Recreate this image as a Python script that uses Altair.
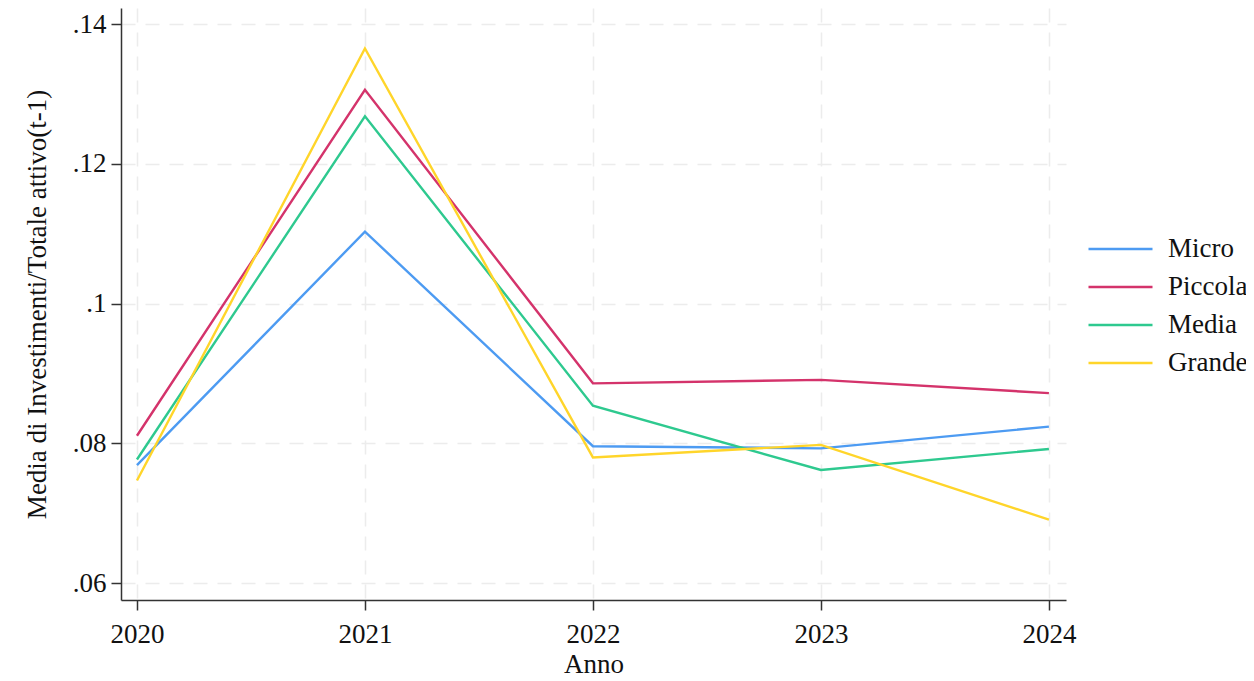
import altair as alt
import pandas as pd

years = [2020, 2021, 2022, 2023, 2024]
series = ["Micro", "Piccola", "Media", "Grande"]
micro = [0.0769, 0.1103, 0.0796, 0.0793, 0.0824]
piccola = [0.0811, 0.1306, 0.0886, 0.0891, 0.0872]
media = [0.0777, 0.1268, 0.0854, 0.0762, 0.0792]
grande = [0.0747, 0.1365, 0.0780, 0.0798, 0.0691]
colors = ["#4d9bf2", "#d4336b", "#2ec98f", "#ffd52a"]
y_ticks = [0.06, 0.08, 0.10, 0.12, 0.14]

rows = []
for name, vals in zip(series, [micro, piccola, media, grande]):
    for yr, v in zip(years, vals):
        rows.append({"Anno": yr, "Serie": name, "Valore": v})
df = pd.DataFrame(rows)

FONT = "Liberation Serif"

chart = alt.Chart(df).mark_line(strokeWidth=2.4).encode(
    x=alt.X("Anno:Q",
            scale=alt.Scale(domain=[2019.93, 2024.075], nice=False, zero=False),
            axis=alt.Axis(values=years, format="d", title="Anno",
                          tickSize=10, labelPadding=11, titlePadding=4,
                          grid=True, gridDash=[14, 10], gridColor="#ececec", gridWidth=1.5)),
    y=alt.Y("Valore:Q",
            scale=alt.Scale(domain=[0.0576, 0.1423], nice=False, zero=False),
            axis=alt.Axis(values=y_ticks, title="Media di Investimenti/Totale attivo(t-1)",
                          labelExpr="replace(format(datum.value, '.2~f'), '0.', '.')",
                          tickSize=10, labelPadding=5, titlePadding=21,
                          grid=True, gridDash=[14, 10], gridColor="#ececec", gridWidth=1.5)),
    color=alt.Color("Serie:N", sort=series,
                    scale=alt.Scale(domain=series, range=colors),
                    legend=alt.Legend(title=None, orient="none", legendX=966, legendY=222,
                                      symbolType="stroke", symbolSize=4096,
                                      symbolStrokeWidth=2.5, clipHeight=38,
                                      labelFont=FONT, labelFontSize=27, labelColor="#111",
                                      labelOffset=14, rowPadding=0)),
    order=alt.Order("Anno:Q"),
).properties(
    width=945, height=592,
    autosize=alt.AutoSizeParams(type="none"),
    padding={"left": 113, "top": 0, "right": 180, "bottom": 90},
).configure(background="white").configure_view(stroke=None).configure_axis(
    labelFont=FONT, titleFont=FONT, labelFontSize=27, titleFontSize=27,
    labelColor="#111", titleColor="#111", titleFontWeight="normal",
    domainColor="#333", domainWidth=1.5, tickColor="#333", tickWidth=1.5,
)

chart.save("out.html", embed_options={"renderer": "svg", "actions": False})
